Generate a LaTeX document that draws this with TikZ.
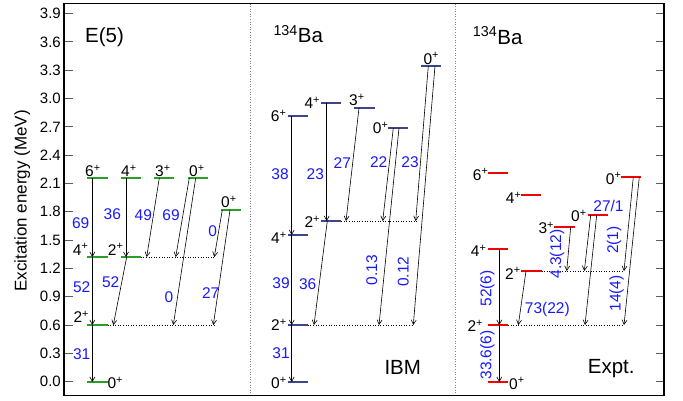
\documentclass[tikz,border=0pt]{standalone}
\usepackage{fontspec}
\setmainfont{Liberation Sans}
\usetikzlibrary{arrows.meta}
\definecolor{egreen}{RGB}{40,160,40}
\definecolor{inavy}{RGB}{60,70,140}
\definecolor{xred}{RGB}{245,0,0}
\definecolor{lblue}{RGB}{25,25,255}
\definecolor{tickgray}{RGB}{90,90,90}
\newcommand\lp[1]{#1\textsuperscript{+}}
\begin{document}
\begin{tikzpicture}[x=1bp,y=-1bp,
  lvl/.style={rectangle,inner sep=0,minimum width=20bp,minimum height=0bp},
  lineE/.style={egreen,line width=2bp},
  lineI/.style={inavy,line width=2bp},
  lineX/.style={xred,line width=2bp},
  arr/.style={-{Straight Barb[length=4.5bp,width=5bp]},line width=0.6bp,black},
  dots/.style={dotted,line width=0.6bp},
  jp/.style={font=\fontsize{15.5bp}{17bp}\selectfont,inner sep=0,anchor=base west},
  bl/.style={font=\fontsize{15.5bp}{17bp}\selectfont,text=lblue,inner sep=0},
  blr/.style={bl,rotate=90},
  ttl/.style={font=\fontsize{20.5bp}{23bp}\selectfont,inner sep=0,anchor=base west},
  tk/.style={font=\fontsize{15bp}{17bp}\selectfont,inner sep=0,anchor=east},
  tick/.style={line width=1bp,tickgray}
]
\useasboundingbox (0,0) rectangle (683,400);
% frame and dividers
\draw[gray,dotted,line width=0.6bp] (250,3.5) -- (250,395.5);
\draw[gray,dotted,line width=0.6bp] (455,3.5) -- (455,395.5);
\foreach \k [evaluate=\k as \yy using 381.7-28.32*\k] in {0,...,13}{
  \draw[tick] (64,\yy) -- (72.7,\yy);
  \draw[tick] (655.5,\yy) -- (664,\yy);
}
\foreach \k/\t in {0/0.0,1/0.3,2/0.6,3/0.9,4/1.2,5/1.5,6/1.8,7/2.1,8/2.4,9/2.7,10/3.0,11/3.3,12/3.6,13/3.9}{
  \node[tk] (tl\k) at (61,381.7-28.32*\k) {\t};
}
\draw[line width=1.3bp] (64,3.5) rectangle (664,395.5);
\node[font=\fontsize{17bp}{19bp}\selectfont,rotate=90,anchor=base,inner sep=0] (ylab) at (26.7,201) {Excitation energy (MeV)};

% ---------- E(5) ----------
\node[ttl] (tE) at (85,42.7) {E(5)};
\node[lvl] (e0) at (97.3,382) {};
\node[lvl] (e2) at (97.3,325) {};
\node[lvl] (e4) at (97.3,257) {};
\node[lvl] (e2b) at (130.7,257) {};
\node[lvl] (e6) at (97.3,178) {};
\node[lvl] (e4b) at (130.7,178) {};
\node[lvl] (e3) at (164,178) {};
\node[lvl] (e0b) at (198,178) {};
\node[lvl] (e0c) at (231,210) {};
\coordinate (e2bd) at (216,257);
\coordinate (e2d) at (216,325);
\draw[dots] (e2b.east) -- (e2bd);
\draw[dots] (e2.east) -- (e2d);
\foreach \n in {e0,e2,e4,e2b,e6,e4b,e3,e0b,e0c} \draw[lineE] (\n.west) -- (\n.east);
\draw[arr] ([xshift=-5bp]e6.center) -- ([xshift=-5bp]e4.center);
\draw[arr] ([xshift=-5bp]e4.center) -- ([xshift=-5bp]e2.center);
\draw[arr] ([xshift=-5bp]e2.center) -- ([xshift=-5bp]e0.center);
\draw[arr] ([xshift=-4.7bp]e4b.center) -- ([xshift=-4.7bp]e2b.center);
\draw[arr] ([xshift=-4bp]e2b.center) -- ([xshift=16bp]e2.center);
\draw[arr] ([xshift=-4.7bp]e3.center) -- ([xshift=16bp]e2b.center);
\draw[arr] ([xshift=-8.7bp]e0b.center) -- ([xshift=45bp]e2b.center);
\draw[arr] ([xshift=-2.3bp]e0b.center) -- ([xshift=76bp]e2.center);
\draw[arr] ([xshift=-8.7bp]e0c.center) -- ([xshift=83.6bp]e2b.center);
\draw[arr] ([xshift=-1bp]e0c.center) -- ([xshift=116bp]e2.center);
\node[jp] (le6) at (85,176.7) {\lp{6}};
\node[jp] (le4b) at (121,176.7) {\lp{4}};
\node[jp] (le3) at (155,176.7) {\lp{3}};
\node[jp] (le0b) at (189,176.7) {\lp{0}};
\node[jp] (le0c) at (221,207.7) {\lp{0}};
\node[jp] (le4) at (72.7,255) {\lp{4}};
\node[jp] (le2b) at (107.7,255) {\lp{2}};
\node[jp] (le2) at (73.3,322.7) {\lp{2}};
\node[jp] (le0) at (107.3,388.3) {\lp{0}};
\node[bl] (be1) at (80.7,223.3) {69};
\node[bl] (be2) at (112.3,214) {36};
\node[bl] (be3) at (143.3,215) {49};
\node[bl] (be4) at (171,215) {69};
\node[bl] (be5) at (212.7,230.7) {0};
\node[bl] (be6) at (81.7,286.7) {52};
\node[bl] (be7) at (110.7,281.7) {52};
\node[bl] (be8) at (169,297.3) {0};
\node[bl] (be9) at (210.7,292.7) {27};
\node[bl] (be10) at (81.7,354) {31};

% ---------- IBM ----------
\node[ttl] (tI) at (273.3,42.7) {\textsuperscript{134}Ba};
\node[ttl] (tIBM) at (384.3,374) {IBM};
\node[lvl] (i0) at (297.7,382) {};
\node[lvl] (i2) at (297.7,325) {};
\node[lvl] (i4) at (297.7,235) {};
\node[lvl] (i2b) at (331,221) {};
\node[lvl] (i6) at (297.7,116) {};
\node[lvl] (i4b) at (331,103) {};
\node[lvl] (i3) at (364.3,108) {};
\node[lvl] (i0b) at (397.7,128) {};
\node[lvl] (i0c) at (431,66) {};
\coordinate (i2bd) at (417,221);
\coordinate (i2d) at (414,325);
\draw[dots] (i2b.east) -- (i2bd);
\draw[dots] (i2.east) -- (i2d);
\foreach \n in {i0,i2,i4,i2b,i6,i4b,i3,i0b,i0c} \draw[lineI] (\n.west) -- (\n.east);
\draw[arr] ([xshift=-6bp]i6.center) -- ([xshift=-6bp]i4.center);
\draw[arr] ([xshift=-6bp]i4.center) -- ([xshift=-6bp]i2.center);
\draw[arr] ([xshift=-6bp]i2.center) -- ([xshift=-6bp]i0.center);
\draw[arr] ([xshift=-4.3bp]i4b.center) -- ([xshift=-4.3bp]i2b.center);
\draw[arr] ([xshift=-5.3bp]i3.center) -- ([xshift=15bp]i2b.center);
\draw[arr] ([xshift=-3.7bp]i2b.center) -- ([xshift=16.3bp]i2.center);
\draw[arr] ([xshift=-4.4bp]i0b.center) -- ([xshift=51.7bp]i2b.center);
\draw[arr] ([xshift=1.3bp]i0b.center) -- ([xshift=81.3bp]i2.center);
\draw[arr] ([xshift=-2.7bp]i0c.center) -- ([xshift=84.7bp]i2b.center);
\draw[arr] ([xshift=4bp]i0c.center) -- ([xshift=115.6bp]i2.center);
\node[jp] (li6) at (270.7,121.7) {\lp{6}};
\node[jp] (li4b) at (304.3,108.3) {\lp{4}};
\node[jp] (li3) at (349,105.7) {\lp{3}};
\node[jp] (li0b) at (372.7,133.3) {\lp{0}};
\node[jp] (li0c) at (423.3,64) {\lp{0}};
\node[jp] (li2b) at (304.3,227.3) {\lp{2}};
\node[jp] (li4) at (271,243.3) {\lp{4}};
\node[jp] (li2) at (271,330.7) {\lp{2}};
\node[jp] (li0) at (271,388.3) {\lp{0}};
\node[bl] (bi1) at (280,174) {38};
\node[bl] (bi2) at (315.3,174) {23};
\node[bl] (bi3) at (342.3,162.7) {27};
\node[bl] (bi4) at (378.7,161.7) {22};
\node[bl] (bi5) at (410,161.7) {23};
\node[bl] (bi6) at (281,283.3) {39};
\node[bl] (bi7) at (307.7,284.3) {36};
\node[blr] (bi8) at (371.7,270) {0.13};
\node[blr] (bi9) at (403.3,271.7) {0.12};
\node[bl] (bi10) at (281,352.7) {31};

% ---------- Expt ----------
\node[ttl] (tX) at (472.7,44.3) {\textsuperscript{134}Ba};
\node[ttl] (tExpt) at (587.7,373.3) {Expt.};
\node[lvl] (x0) at (497.8,382) {};
\node[lvl] (x2) at (497.8,325) {};
\node[lvl] (x4) at (497.8,249) {};
\node[lvl] (x2b) at (531.3,271) {};
\node[lvl] (x3) at (564.5,227) {};
\node[lvl] (x0b) at (597.8,215) {};
\node[lvl] (x0c) at (631.2,177) {};
\node[lvl] (x4b) at (531.2,195) {};
\node[lvl] (x6) at (497.8,173) {};
\coordinate (x2bd) at (624,271);
\coordinate (x2d) at (624,325);
\draw[dots] (x2b.east) -- (x2bd);
\draw[dots] (x2.east) -- (x2d);
\foreach \n in {x0,x2,x4,x2b,x3,x0b,x0c,x4b,x6} \draw[lineX] (\n.west) -- (\n.east);
\draw[arr] ([xshift=1.5bp]x4.center) -- ([xshift=1.5bp]x2.center);
\draw[arr] ([xshift=1.5bp]x2.center) -- ([xshift=1.5bp]x0.center);
\draw[arr] ([xshift=-5.3bp]x2b.center) -- ([xshift=20.5bp]x2.center);
\draw[arr] ([xshift=6.2bp]x3.center) -- ([xshift=35.4bp]x2b.center);
\draw[arr] ([xshift=-7.1bp]x0b.center) -- ([xshift=53bp]x2b.center);
\draw[arr] ([xshift=-1.1bp]x0b.center) -- ([xshift=87.2bp]x2.center);
\draw[arr] ([xshift=2.1bp]x0c.center) -- ([xshift=92.7bp]x2b.center);
\draw[arr] ([xshift=8.1bp]x0c.center) -- ([xshift=126.2bp]x2.center);
\node[jp] (lx6) at (472.7,180) {\lp{6}};
\node[jp] (lx4b) at (505.7,203.3) {\lp{4}};
\node[jp] (lx3) at (538.3,233.3) {\lp{3}};
\node[jp] (lx0b) at (571,221.7) {\lp{0}};
\node[jp] (lx0c) at (605.7,184) {\lp{0}};
\node[jp] (lx4) at (470.7,256.7) {\lp{4}};
\node[jp] (lx2b) at (505,279) {\lp{2}};
\node[jp] (lx2) at (467.3,331.7) {\lp{2}};
\node[jp] (lx0) at (509,389) {\lp{0}};
\node[blr] (bx1) at (487.3,355) {33.6(6)};
\node[blr] (bx2) at (487.3,288.3) {52(6)};
\node[bl] (bx3) at (547.3,309.3) {73(22)};
\node[blr] (bx4) at (557,254) {4.3(12)};
\node[bl] (bx5) at (608.5,205.5) {27/1};
\node[blr] (bx6) at (614,240) {2(1)};
\node[blr] (bx7) at (616.7,293.3) {14(4)};
\end{tikzpicture}
\end{document}
